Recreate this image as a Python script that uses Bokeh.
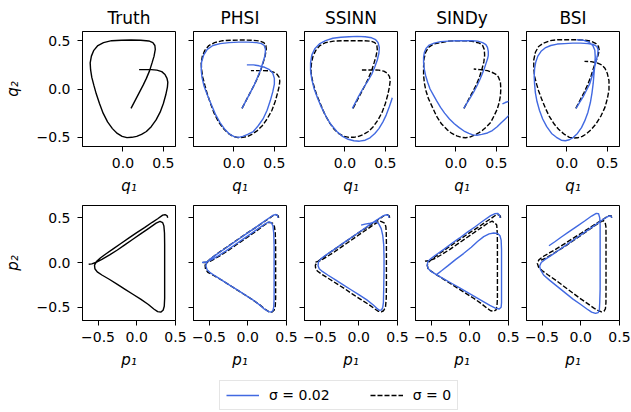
from bokeh.plotting import figure
from bokeh.layouts import column, row
from bokeh.models import Range1d, FixedTicker, CustomJSTickFormatter, Legend, LegendItem
from bokeh.embed import file_html
from bokeh.resources import INLINE

# ---------------------------------------------------------------- data
methods = ["Truth", "PHSI", "SSINN", "SINDy", "BSI"]
noise_labels = ["\u03c3 = 0.02", "\u03c3 = 0"]
q_ticks = [0.0, 0.5]
p_ticks = [-0.5, 0.0, 0.5]
y_ticks = [-0.5, 0.0, 0.5]

# position trajectories (q1, q2)
truth_q1 = [0.10, 0.15, 0.20, 0.25, 0.29, 0.33, 0.36, 0.385, 0.40, 0.395, 0.37, 0.32, 0.22, 0.10, -0.02, -0.14, -0.24, -0.31, -0.36, -0.39, -0.405, -0.40, -0.385, -0.36, -0.33, -0.29, -0.245, -0.19, -0.13, -0.07, -0.01, 0.05, 0.11, 0.17, 0.23, 0.29, 0.35, 0.41, 0.46, 0.50, 0.53, 0.55, 0.555, 0.545, 0.52, 0.48, 0.42, 0.35, 0.28, 0.20]
truth_q2 = [-0.20, -0.12, -0.04, 0.04, 0.11, 0.19, 0.27, 0.34, 0.41, 0.45, 0.48, 0.497, 0.505, 0.507, 0.505, 0.50, 0.48, 0.45, 0.40, 0.34, 0.27, 0.20, 0.12, 0.04, -0.05, -0.15, -0.25, -0.34, -0.41, -0.46, -0.49, -0.503, -0.50, -0.49, -0.47, -0.44, -0.39, -0.32, -0.24, -0.15, -0.06, 0.02, 0.07, 0.11, 0.15, 0.18, 0.195, 0.20, 0.20, 0.20]

phsi_q1_clean = [0.10, 0.15, 0.20, 0.25, 0.29, 0.33, 0.36, 0.385, 0.40, 0.395, 0.37, 0.32, 0.22, 0.10, -0.02, -0.14, -0.24, -0.31, -0.36, -0.39, -0.405, -0.40, -0.385, -0.36, -0.33, -0.29, -0.245, -0.19, -0.13, -0.07, -0.01, 0.05, 0.11, 0.17, 0.23, 0.29, 0.35, 0.41, 0.47, 0.51, 0.54, 0.56, 0.567, 0.56, 0.53, 0.49, 0.43, 0.36, 0.29, 0.21]
phsi_q2_clean = [-0.20, -0.12, -0.04, 0.04, 0.11, 0.19, 0.27, 0.34, 0.41, 0.45, 0.48, 0.497, 0.505, 0.507, 0.505, 0.50, 0.48, 0.45, 0.40, 0.34, 0.27, 0.20, 0.12, 0.04, -0.05, -0.15, -0.25, -0.34, -0.41, -0.46, -0.49, -0.503, -0.50, -0.49, -0.465, -0.43, -0.38, -0.31, -0.22, -0.13, -0.04, 0.03, 0.08, 0.12, 0.155, 0.175, 0.188, 0.19, 0.19, 0.19]
phsi_q1_noisy = [0.10, 0.15, 0.20, 0.25, 0.29, 0.33, 0.36, 0.385, 0.39, 0.375, 0.34, 0.28, 0.18, 0.06, -0.06, -0.17, -0.26, -0.33, -0.375, -0.40, -0.405, -0.395, -0.37, -0.33, -0.28, -0.23, -0.17, -0.11, -0.05, 0.01, 0.06, 0.11, 0.17, 0.24, 0.30, 0.36, 0.41, 0.45, 0.48, 0.50, 0.50, 0.48, 0.44, 0.38, 0.31, 0.24, 0.16]
phsi_q2_noisy = [-0.20, -0.12, -0.04, 0.04, 0.12, 0.20, 0.28, 0.35, 0.41, 0.45, 0.47, 0.48, 0.485, 0.485, 0.48, 0.47, 0.45, 0.41, 0.35, 0.28, 0.20, 0.12, 0.03, -0.06, -0.16, -0.26, -0.35, -0.42, -0.47, -0.495, -0.50, -0.49, -0.47, -0.44, -0.38, -0.31, -0.22, -0.12, -0.03, 0.05, 0.11, 0.165, 0.20, 0.225, 0.24, 0.25, 0.25]

ssinn_q1_clean = [0.10, 0.15, 0.20, 0.25, 0.29, 0.33, 0.36, 0.385, 0.40, 0.395, 0.37, 0.32, 0.22, 0.10, -0.02, -0.14, -0.24, -0.31, -0.36, -0.395, -0.415, -0.42, -0.405, -0.38, -0.345, -0.30, -0.25, -0.19, -0.13, -0.07, -0.01, 0.05, 0.11, 0.17, 0.23, 0.29, 0.35, 0.41, 0.46, 0.50, 0.53, 0.55, 0.56, 0.55, 0.52, 0.48, 0.42, 0.35, 0.28, 0.21]
ssinn_q2_clean = [-0.20, -0.12, -0.04, 0.04, 0.11, 0.19, 0.27, 0.34, 0.41, 0.45, 0.48, 0.495, 0.50, 0.50, 0.50, 0.495, 0.48, 0.45, 0.40, 0.34, 0.26, 0.18, 0.10, 0.02, -0.07, -0.16, -0.26, -0.35, -0.42, -0.465, -0.49, -0.50, -0.50, -0.49, -0.47, -0.44, -0.39, -0.32, -0.24, -0.15, -0.06, 0.02, 0.086, 0.13, 0.165, 0.185, 0.195, 0.197, 0.197, 0.197]
ssinn_q1_noisy = [0.092, 0.16, 0.22, 0.28, 0.33, 0.37, 0.40, 0.42, 0.425, 0.41, 0.38, 0.33, 0.25, 0.15, 0.05, -0.05, -0.15, -0.24, -0.31, -0.37, -0.41, -0.425, -0.425, -0.41, -0.38, -0.34, -0.29, -0.23, -0.17, -0.10, -0.03, 0.04, 0.11, 0.18, 0.25, 0.31, 0.37, 0.42, 0.47, 0.51, 0.55, 0.575, 0.585]
ssinn_q2_noisy = [-0.20, -0.09, 0.0, 0.08, 0.15, 0.23, 0.30, 0.37, 0.43, 0.48, 0.51, 0.53, 0.54, 0.545, 0.54, 0.535, 0.525, 0.50, 0.47, 0.42, 0.35, 0.27, 0.19, 0.10, 0.0, -0.09, -0.19, -0.29, -0.37, -0.44, -0.49, -0.52, -0.535, -0.54, -0.53, -0.505, -0.46, -0.41, -0.34, -0.27, -0.18, -0.12, -0.09]

sindy_q1_clean = [0.10, 0.15, 0.20, 0.25, 0.29, 0.32, 0.345, 0.355, 0.35, 0.33, 0.29, 0.22, 0.13, 0.02, -0.09, -0.19, -0.28, -0.34, -0.375, -0.395, -0.40, -0.40, -0.39, -0.37, -0.34, -0.29, -0.24, -0.18, -0.11, -0.05, 0.01, 0.07, 0.12, 0.18, 0.22, 0.28, 0.325, 0.38, 0.43, 0.47, 0.51, 0.535, 0.55, 0.555, 0.55, 0.525, 0.49, 0.44, 0.39, 0.30, 0.22]
sindy_q2_clean = [-0.20, -0.12, -0.04, 0.04, 0.12, 0.20, 0.28, 0.35, 0.41, 0.45, 0.475, 0.49, 0.50, 0.50, 0.495, 0.48, 0.465, 0.43, 0.38, 0.31, 0.23, 0.14, 0.06, -0.02, -0.10, -0.19, -0.28, -0.36, -0.42, -0.46, -0.485, -0.50, -0.505, -0.495, -0.48, -0.455, -0.43, -0.39, -0.345, -0.28, -0.21, -0.14, -0.07, 0.0, 0.07, 0.125, 0.155, 0.175, 0.19, 0.20, 0.207]
sindy_q1_noisy = [0.096, 0.14, 0.18, 0.22, 0.26, 0.295, 0.325, 0.35, 0.37, 0.39, 0.40, 0.40, 0.39, 0.37, 0.33, 0.27, 0.20, 0.11, 0.01, -0.09, -0.19, -0.27, -0.33, -0.37, -0.39, -0.40, -0.40, -0.39, -0.375, -0.35, -0.32, -0.28, -0.24, -0.19, -0.14, -0.08, -0.02, 0.04, 0.10, 0.16, 0.21, 0.26, 0.32, 0.39, 0.45, 0.51, 0.56, 0.61, 0.66, 0.71, 0.74, 0.72, 0.66, 0.61, 0.575]
sindy_q2_noisy = [-0.20, -0.14, -0.086, -0.03, 0.034, 0.095, 0.155, 0.21, 0.26, 0.31, 0.345, 0.39, 0.43, 0.46, 0.48, 0.495, 0.50, 0.50, 0.50, 0.495, 0.49, 0.475, 0.455, 0.42, 0.38, 0.33, 0.27, 0.20, 0.14, 0.07, 0.0, -0.06, -0.12, -0.19, -0.25, -0.31, -0.36, -0.40, -0.435, -0.46, -0.475, -0.478, -0.47, -0.455, -0.43, -0.39, -0.35, -0.31, -0.27, -0.22, -0.17, -0.13, -0.125, -0.14, -0.155]

bsi_q1_clean = [0.11, 0.16, 0.21, 0.26, 0.30, 0.33, 0.36, 0.385, 0.40, 0.39, 0.36, 0.30, 0.22, 0.12, 0.0, -0.11, -0.21, -0.29, -0.35, -0.39, -0.41, -0.41, -0.40, -0.375, -0.35, -0.31, -0.26, -0.22, -0.16, -0.10, -0.03, 0.03, 0.08, 0.13, 0.19, 0.24, 0.30, 0.36, 0.42, 0.47, 0.50, 0.52, 0.52, 0.50, 0.47, 0.43, 0.38, 0.30, 0.217]
bsi_q2_clean = [-0.20, -0.12, -0.04, 0.05, 0.14, 0.22, 0.29, 0.35, 0.40, 0.44, 0.47, 0.495, 0.505, 0.51, 0.51, 0.51, 0.50, 0.475, 0.44, 0.38, 0.30, 0.22, 0.13, 0.05, -0.02, -0.11, -0.21, -0.28, -0.36, -0.42, -0.47, -0.50, -0.507, -0.505, -0.49, -0.465, -0.42, -0.36, -0.28, -0.19, -0.10, -0.01, 0.086, 0.16, 0.215, 0.25, 0.268, 0.283, 0.286]
bsi_q1_noisy = [0.1125, 0.155, 0.196, 0.24, 0.28, 0.31, 0.34, 0.365, 0.38, 0.385, 0.37, 0.33, 0.26, 0.17, 0.07, -0.03, -0.12, -0.20, -0.27, -0.32, -0.36, -0.385, -0.40, -0.405, -0.40, -0.39, -0.37, -0.34, -0.30, -0.25, -0.19, -0.13, -0.07, -0.02, 0.03, 0.08, 0.13, 0.18, 0.22, 0.26, 0.29, 0.31, 0.325, 0.335, 0.345, 0.35, 0.345, 0.32, 0.27, 0.20, 0.12]
bsi_q2_noisy = [-0.20, -0.14, -0.086, -0.015, 0.05, 0.13, 0.22, 0.30, 0.36, 0.41, 0.44, 0.46, 0.47, 0.475, 0.475, 0.47, 0.465, 0.45, 0.425, 0.39, 0.34, 0.28, 0.21, 0.13, 0.05, -0.04, -0.13, -0.22, -0.31, -0.39, -0.46, -0.50, -0.53, -0.535, -0.525, -0.50, -0.46, -0.40, -0.33, -0.24, -0.14, -0.04, 0.06, 0.16, 0.25, 0.33, 0.40, 0.45, 0.485, 0.505, 0.51]

# momentum trajectories (p1, p2)
truth_p1 = [0.40, 0.39, 0.365, 0.335, 0.27, 0.20, 0.10, 0.0, -0.10, -0.20, -0.30, -0.40, -0.47, -0.52, -0.545, -0.54, -0.51, -0.45, -0.35, -0.25, -0.15, -0.05, 0.05, 0.15, 0.22, 0.27, 0.31, 0.34, 0.355, 0.36, 0.36, 0.36, 0.36, 0.36, 0.358, 0.35, 0.335, 0.30, 0.25, 0.15, 0.05, -0.05, -0.15, -0.25, -0.35, -0.45, -0.53, -0.58, -0.62]
truth_p2 = [0.50, 0.525, 0.535, 0.53, 0.49, 0.45, 0.39, 0.335, 0.275, 0.215, 0.155, 0.095, 0.05, 0.01, -0.03, -0.07, -0.105, -0.14, -0.19, -0.245, -0.30, -0.355, -0.41, -0.47, -0.52, -0.55, -0.555, -0.535, -0.49, -0.40, -0.25, -0.10, 0.05, 0.20, 0.33, 0.41, 0.445, 0.46, 0.44, 0.38, 0.32, 0.26, 0.20, 0.14, 0.085, 0.035, 0.0, -0.015, -0.02]

phsi_p1_clean = [0.40, 0.39, 0.365, 0.335, 0.27, 0.20, 0.10, 0.0, -0.10, -0.20, -0.30, -0.40, -0.47, -0.52, -0.55, -0.545, -0.515, -0.45, -0.35, -0.25, -0.15, -0.05, 0.05, 0.15, 0.22, 0.27, 0.31, 0.34, 0.355, 0.36, 0.36, 0.36, 0.36, 0.36, 0.355, 0.345, 0.32, 0.28, 0.23, 0.14, 0.04, -0.06, -0.16, -0.26, -0.36, -0.45, -0.52, -0.58]
phsi_p2_clean = [0.50, 0.525, 0.535, 0.53, 0.49, 0.45, 0.39, 0.335, 0.275, 0.215, 0.155, 0.095, 0.05, 0.01, -0.03, -0.075, -0.11, -0.14, -0.19, -0.245, -0.30, -0.355, -0.41, -0.47, -0.52, -0.55, -0.555, -0.535, -0.49, -0.40, -0.25, -0.10, 0.05, 0.20, 0.33, 0.40, 0.44, 0.45, 0.43, 0.37, 0.31, 0.25, 0.19, 0.13, 0.075, 0.03, 0.0, 0.0]
phsi_p1_noisy = [0.39, 0.385, 0.365, 0.33, 0.27, 0.18, 0.08, -0.02, -0.12, -0.22, -0.32, -0.42, -0.49, -0.53, -0.54, -0.525, -0.49, -0.43, -0.33, -0.23, -0.13, -0.03, 0.07, 0.16, 0.22, 0.27, 0.30, 0.325, 0.335, 0.34, 0.34, 0.34, 0.34, 0.34, 0.335, 0.325, 0.305, 0.27, 0.22, 0.12, 0.02, -0.08, -0.18, -0.28, -0.38, -0.47, -0.54, -0.59]
phsi_p2_noisy = [0.50, 0.525, 0.537, 0.53, 0.495, 0.44, 0.38, 0.32, 0.26, 0.20, 0.14, 0.08, 0.035, 0.0, -0.04, -0.08, -0.11, -0.145, -0.20, -0.255, -0.31, -0.365, -0.42, -0.48, -0.525, -0.55, -0.555, -0.54, -0.50, -0.40, -0.25, -0.10, 0.05, 0.20, 0.33, 0.41, 0.445, 0.455, 0.43, 0.37, 0.31, 0.25, 0.19, 0.13, 0.075, 0.03, 0.005, 0.0]

ssinn_p1_clean = [0.40, 0.39, 0.365, 0.335, 0.27, 0.20, 0.10, 0.0, -0.10, -0.20, -0.30, -0.40, -0.47, -0.53, -0.56, -0.557, -0.535, -0.47, -0.37, -0.27, -0.17, -0.07, 0.03, 0.13, 0.20, 0.25, 0.29, 0.32, 0.345, 0.355, 0.357, 0.357, 0.357, 0.357, 0.355, 0.35, 0.335, 0.30, 0.27, 0.17, 0.07, -0.03, -0.13, -0.23, -0.33, -0.43, -0.51, -0.578]
ssinn_p2_clean = [0.50, 0.525, 0.535, 0.53, 0.49, 0.45, 0.39, 0.335, 0.275, 0.215, 0.155, 0.095, 0.05, 0.01, -0.03, -0.06, -0.095, -0.135, -0.19, -0.245, -0.30, -0.36, -0.415, -0.47, -0.515, -0.545, -0.552, -0.54, -0.50, -0.40, -0.25, -0.10, 0.05, 0.20, 0.33, 0.40, 0.44, 0.455, 0.466, 0.41, 0.35, 0.29, 0.23, 0.17, 0.11, 0.055, 0.015, 0.0]
ssinn_p1_noisy = [0.39, 0.385, 0.36, 0.32, 0.25, 0.17, 0.08, -0.02, -0.12, -0.22, -0.32, -0.42, -0.49, -0.52, -0.525, -0.51, -0.47, -0.40, -0.30, -0.20, -0.10, 0.0, 0.10, 0.18, 0.23, 0.265, 0.295, 0.31, 0.318, 0.322, 0.326, 0.326, 0.322, 0.31, 0.29, 0.26, 0.226, 0.19, 0.15, 0.08, 0.03]
ssinn_p2_noisy = [0.50, 0.525, 0.535, 0.525, 0.485, 0.44, 0.385, 0.325, 0.265, 0.205, 0.145, 0.085, 0.04, 0.005, -0.035, -0.07, -0.10, -0.14, -0.195, -0.25, -0.305, -0.36, -0.415, -0.47, -0.51, -0.534, -0.53, -0.50, -0.45, -0.30, -0.10, 0.06, 0.20, 0.30, 0.38, 0.43, 0.459, 0.45, 0.44, 0.43, 0.418]

sindy_p1_clean = [0.40, 0.39, 0.365, 0.335, 0.27, 0.20, 0.10, 0.0, -0.10, -0.20, -0.30, -0.40, -0.47, -0.525, -0.548, -0.54, -0.51, -0.45, -0.35, -0.25, -0.15, -0.05, 0.05, 0.15, 0.22, 0.27, 0.31, 0.34, 0.352, 0.357, 0.357, 0.357, 0.357, 0.357, 0.355, 0.348, 0.33, 0.29, 0.24, 0.14, 0.04, -0.06, -0.16, -0.26, -0.36, -0.45, -0.53, -0.578]
sindy_p2_clean = [0.50, 0.525, 0.535, 0.53, 0.49, 0.45, 0.39, 0.335, 0.275, 0.215, 0.155, 0.095, 0.05, 0.01, -0.03, -0.065, -0.09, -0.125, -0.18, -0.235, -0.29, -0.345, -0.40, -0.46, -0.51, -0.54, -0.545, -0.53, -0.478, -0.40, -0.25, -0.10, 0.05, 0.20, 0.33, 0.42, 0.437, 0.463, 0.445, 0.385, 0.325, 0.265, 0.205, 0.145, 0.09, 0.045, 0.02, 0.015]
sindy_p1_noisy = [0.39, 0.385, 0.36, 0.32, 0.27, 0.17, 0.07, -0.03, -0.13, -0.23, -0.33, -0.43, -0.50, -0.54, -0.55, -0.535, -0.49, -0.43, -0.33, -0.23, -0.13, -0.03, 0.07, 0.17, 0.26, 0.33, 0.38, 0.405, 0.41, 0.41, 0.41, 0.41, 0.41, 0.405, 0.39, 0.36, 0.31, 0.25, 0.18, 0.10, 0.02, -0.08, -0.18, -0.28, -0.36, -0.42]
sindy_p2_noisy = [0.50, 0.53, 0.55, 0.545, 0.525, 0.465, 0.40, 0.34, 0.275, 0.215, 0.15, 0.09, 0.045, 0.01, -0.03, -0.07, -0.105, -0.135, -0.185, -0.235, -0.285, -0.335, -0.385, -0.435, -0.48, -0.51, -0.52, -0.50, -0.45, -0.30, -0.15, 0.0, 0.15, 0.25, 0.30, 0.325, 0.33, 0.32, 0.29, 0.235, 0.17, 0.10, 0.035, -0.035, -0.09, -0.13]

bsi_p1_clean = [0.40, 0.39, 0.36, 0.30, 0.20, 0.10, 0.0, -0.10, -0.20, -0.30, -0.40, -0.48, -0.54, -0.56, -0.545, -0.50, -0.42, -0.32, -0.22, -0.12, -0.02, 0.08, 0.17, 0.23, 0.27, 0.30, 0.318, 0.325, 0.326, 0.326, 0.326, 0.326, 0.326, 0.325, 0.315, 0.29, 0.22, 0.12, 0.02, -0.08, -0.18, -0.28, -0.38, -0.46, -0.53]
bsi_p2_clean = [0.50, 0.525, 0.525, 0.49, 0.435, 0.38, 0.325, 0.27, 0.215, 0.16, 0.11, 0.07, 0.03, -0.01, -0.05, -0.09, -0.14, -0.20, -0.265, -0.33, -0.395, -0.455, -0.51, -0.54, -0.553, -0.545, -0.52, -0.45, -0.30, -0.15, 0.0, 0.15, 0.30, 0.40, 0.45, 0.47, 0.435, 0.375, 0.315, 0.255, 0.195, 0.14, 0.085, 0.045, 0.02]
bsi_p1_noisy = [0.40, 0.39, 0.36, 0.31, 0.22, 0.12, 0.02, -0.08, -0.18, -0.28, -0.38, -0.46, -0.51, -0.53, -0.52, -0.48, -0.40, -0.30, -0.20, -0.10, 0.0, 0.08, 0.14, 0.19, 0.225, 0.24, 0.245, 0.25, 0.25, 0.25, 0.25, 0.25, 0.25, 0.245, 0.23, 0.20, 0.14, 0.05, -0.05, -0.15, -0.25, -0.33, -0.41]
bsi_p2_noisy = [0.50, 0.52, 0.52, 0.495, 0.44, 0.38, 0.32, 0.26, 0.20, 0.14, 0.08, 0.035, 0.0, -0.04, -0.08, -0.14, -0.20, -0.27, -0.34, -0.41, -0.47, -0.52, -0.555, -0.57, -0.56, -0.53, -0.45, -0.30, -0.15, 0.0, 0.15, 0.30, 0.42, 0.50, 0.545, 0.55, 0.52, 0.465, 0.405, 0.345, 0.285, 0.235, 0.187]

q_truth = (truth_q1, truth_q2)
p_truth = (truth_p1, truth_p2)
q_models = [
    ((phsi_q1_clean, phsi_q2_clean), (phsi_q1_noisy, phsi_q2_noisy)),
    ((ssinn_q1_clean, ssinn_q2_clean), (ssinn_q1_noisy, ssinn_q2_noisy)),
    ((sindy_q1_clean, sindy_q2_clean), (sindy_q1_noisy, sindy_q2_noisy)),
    ((bsi_q1_clean, bsi_q2_clean), (bsi_q1_noisy, bsi_q2_noisy)),
]
p_models = [
    ((phsi_p1_clean, phsi_p2_clean), (phsi_p1_noisy, phsi_p2_noisy)),
    ((ssinn_p1_clean, ssinn_p2_clean), (ssinn_p1_noisy, ssinn_p2_noisy)),
    ((sindy_p1_clean, sindy_p2_clean), (sindy_p1_noisy, sindy_p2_noisy)),
    ((bsi_p1_clean, bsi_p2_clean), (bsi_p1_noisy, bsi_p2_noisy)),
]

# ---------------------------------------------------------------- style
FONT = "DejaVu Sans"
BLUE = "#4169e1"
LW = 1.4
DASH = "5 2"
TICK_FMT = "return tick.toFixed(1).replace('-', '\\u2212');"


def style_axes(p, xticks, show_y_labels, ylabel, xlabel):
    p.grid.visible = False
    p.outline_line_color = "black"
    p.outline_line_width = 1
    for ax in (p.xaxis[0], p.yaxis[0]):
        ax.axis_line_color = "black"
        ax.major_tick_line_color = "black"
        ax.major_tick_out = 5
        ax.major_tick_in = 0
        ax.minor_tick_line_color = None
        ax.major_label_text_font = FONT
        ax.major_label_text_font_size = "14px"
        ax.major_label_text_color = "black"
        ax.axis_label_text_font = FONT
        ax.axis_label_text_font_size = "15px"
        ax.axis_label_text_font_style = "italic"
        ax.axis_label_text_color = "black"
    p.xaxis[0].ticker = FixedTicker(ticks=xticks)
    p.xaxis[0].formatter = CustomJSTickFormatter(code=TICK_FMT)
    p.xaxis[0].major_label_standoff = 6
    p.xaxis[0].axis_label = xlabel
    p.xaxis[0].axis_label_standoff = 6
    p.yaxis[0].ticker = FixedTicker(ticks=y_ticks)
    if show_y_labels:
        p.yaxis[0].formatter = CustomJSTickFormatter(code=TICK_FMT)
        p.yaxis[0].major_label_standoff = 7
        p.yaxis[0].axis_label = ylabel
        p.yaxis[0].axis_label_standoff = 12
    else:
        p.yaxis[0].formatter = CustomJSTickFormatter(code="return '';")
        p.yaxis[0].major_label_standoff = 0


def make_panel(col, top):
    first = col == 0
    fig = figure(
        frame_width=93, frame_height=115,
        x_range=Range1d(-0.5, 0.65) if top else Range1d(-0.7, 0.5),
        y_range=Range1d(-0.595, 0.595) if top else Range1d(-0.649, 0.638),
        min_border_left=82 if first else 6,
        min_border_right=12,
        min_border_top=31 if top else 5,
        min_border_bottom=54 if top else 55,
        toolbar_location=None, output_backend="svg",
        title=methods[col] if top else None,
    )
    if top:
        fig.title.align = "center"
        fig.title.text_font = FONT
        fig.title.text_font_size = "17px"
        fig.title.text_font_style = "normal"
        fig.title.text_color = "black"
        fig.title.standoff = 8
    style_axes(
        fig,
        q_ticks if top else p_ticks,
        first,
        "q\u2082" if top else "p\u2082",
        "q\u2081" if top else "p\u2081",
    )
    if first:
        xs, ys = q_truth if top else p_truth
        fig.line(xs, ys, line_color="black", line_width=LW)
    else:
        clean, noisy = (q_models if top else p_models)[col - 1]
        fig.line(clean[0], clean[1], line_color="black", line_width=LW, line_dash=DASH)
        fig.line(noisy[0], noisy[1], line_color=BLUE, line_width=LW)
    return fig


top_row = row(*[make_panel(c, True) for c in range(5)], spacing=0)
bottom_row = row(*[make_panel(c, False) for c in range(5)], spacing=0)

# shared legend strip; the key lines sit outside the visible range
leg = figure(width=631, height=37, toolbar_location=None, output_backend="svg",
             x_axis_location=None, y_axis_location=None, min_border=0,
             x_range=Range1d(0, 1), y_range=Range1d(0, 1))
leg.outline_line_color = None
leg.grid.visible = False
r_noisy = leg.line([5, 6], [5, 6], line_color=BLUE, line_width=LW)
r_clean = leg.line([5, 6], [5, 6], line_color="black", line_width=LW, line_dash=DASH)
legend = Legend(
    items=[LegendItem(label=noise_labels[0], renderers=[r_noisy]),
           LegendItem(label=noise_labels[1], renderers=[r_clean])],
    orientation="horizontal", location=(219, 2), margin=0,
    padding=6, spacing=40, glyph_width=33, glyph_height=14,
    label_standoff=10, label_height=14,
    label_text_font=FONT, label_text_font_size="14px", label_text_color="black",
    border_line_color="#cccccc", border_line_width=1,
    background_fill_color="white", background_fill_alpha=1.0,
)
leg.add_layout(legend)

p = column(top_row, bottom_row, leg, spacing=0)

open("out.html", "w").write(file_html(p, INLINE))
